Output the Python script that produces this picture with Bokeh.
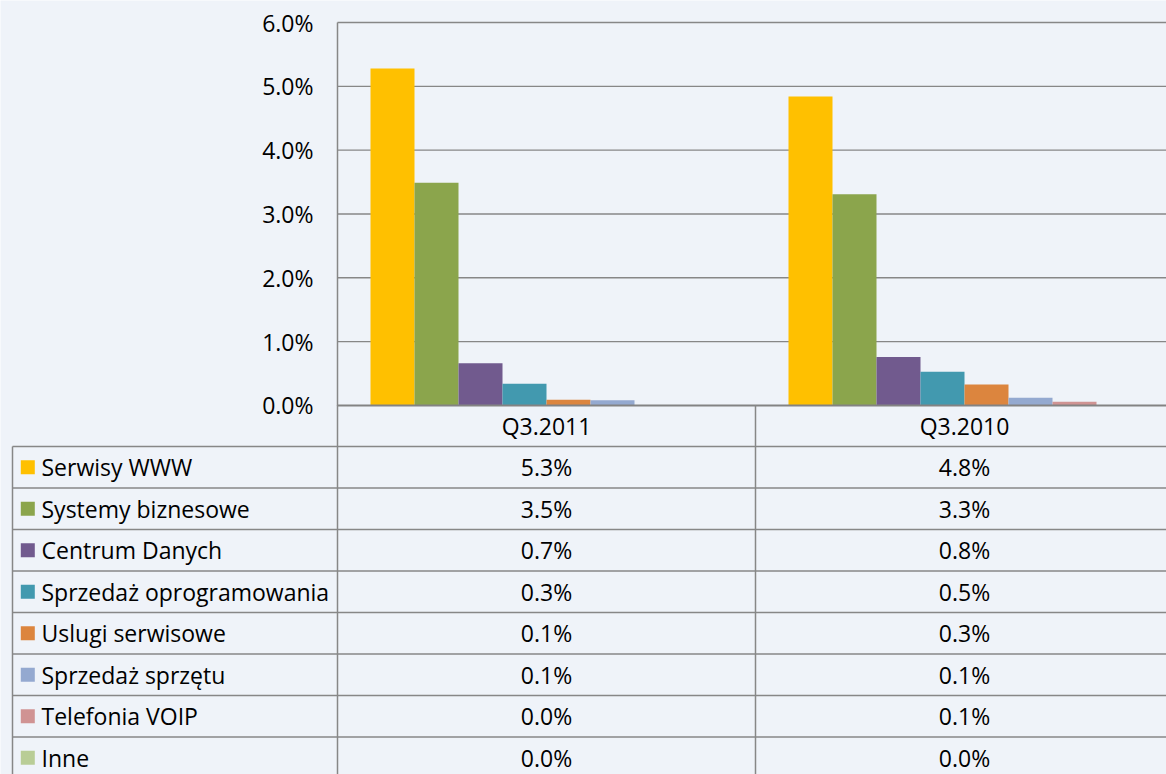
from bokeh.plotting import figure
from bokeh.models import Range1d, ColumnDataSource
from bokeh.core.properties import value
from bokeh.embed import file_html
from bokeh.resources import INLINE

# ---------------- data ----------------
categories = ["Q3.2011", "Q3.2010"]
series = ["Serwisy WWW", "Systemy biznesowe", "Centrum Danych",
          "Sprzedaż oprogramowania", "Uslugi serwisowe", "Sprzedaż sprzętu",
          "Telefonia VOIP", "Inne"]
q3_2011 = [5.28, 3.49, 0.66, 0.34, 0.09, 0.08, 0.0, 0.0]
q3_2010 = [4.84, 3.31, 0.76, 0.53, 0.33, 0.12, 0.06, 0.0]
colors = ["#FFC000", "#8BA54C", "#715A8E", "#4299AF",
          "#DC853E", "#94A9D0", "#D09393", "#B9CD96"]
y_ticks = [0, 1, 2, 3, 4, 5, 6]

# ---------------- layout constants (pixels) ----------------
W, H = 1166, 774
BG = "#eff3f9"
GRID = "#878787"
FONT = "Open Sans"
FS = "23px"
PLOT_LEFT = 337.0   # x of the plot area's left edge
CAT_PX = 418.0      # width of one category
TOP_PX = 22.0       # y of the top gridline
PCT_PX = 63.83      # pixels per 1 percent
ROW_TOP = 404.5     # y of table header top
ROW_PX = 41.5       # table row height
TABLE_LEFT = 12.0
BAR_W = 44.0 / CAT_PX
n_series = len(series)
values_by_cat = [q3_2011, q3_2010]
y_max = max(y_ticks)

x_start = -PLOT_LEFT / CAT_PX
x_end = (W - PLOT_LEFT) / CAT_PX
y_top = y_max + TOP_PX / PCT_PX
y_bot = y_max - (H - TOP_PX) / PCT_PX
v_top = -ROW_TOP / ROW_PX
v_bot = (H - ROW_TOP) / ROW_PX

p = figure(width=W, height=H,
           x_range=Range1d(x_start, x_end),
           y_range=Range1d(y_bot, y_top),
           x_axis_location=None, y_axis_location=None,
           output_backend="svg", toolbar_location=None,
           min_border=0,
           background_fill_color=BG, border_fill_color=BG,
           outline_line_color=None)
p.extra_y_ranges = {"table": Range1d(v_bot, v_top)}
p.xgrid.grid_line_color = None
p.ygrid.grid_line_color = None

# ---------------- chart ----------------
grid_y = [t for t in y_ticks if t > 0]
p.segment(x0=[0] * len(grid_y), x1=[x_end] * len(grid_y), y0=grid_y, y1=grid_y,
          line_color=GRID, line_width=1.4)
p.segment(x0=[0], x1=[0], y0=[0], y1=[y_max], line_color=GRID, line_width=1.5)

# y tick labels
p.text(x=[(313 - PLOT_LEFT) / CAT_PX] * len(y_ticks), y=y_ticks,
       text=[f"{t:.1f}%" for t in y_ticks], text_align="right", text_baseline="middle",
       text_font=value(FONT), text_font_size=FS, text_color="#000000")

# bars
bx, btop, bcol = [], [], []
for i, vals in enumerate(values_by_cat):
    for j, v in enumerate(vals):
        bx.append(i + 0.5 + (j - (n_series - 1) / 2) * BAR_W)
        btop.append(v)
        bcol.append(colors[j])
p.vbar(x="x", top="top", bottom=0, width=BAR_W, color="color", line_color=None,
       source=ColumnDataSource(dict(x=bx, top=btop, color=bcol)))

# baseline
p.segment(x0=[0], x1=[x_end], y0=[0], y1=[0], line_color="#838383", line_width=2.2)

# ---------------- data table ----------------
u_left = (TABLE_LEFT - PLOT_LEFT) / CAT_PX
n_rows = len(series)
hy = list(range(1, n_rows + 2))
p.segment(x0=[u_left] * len(hy), x1=[x_end] * len(hy), y0=hy, y1=hy,
          line_color=GRID, line_width=1.5, y_range_name="table")
p.segment(x0=[u_left, 0, 1], x1=[u_left, 0, 1],
          y0=[1, 0, 0], y1=[v_bot, v_bot, v_bot],
          line_color=GRID, line_width=1.5, y_range_name="table")

# header
p.text(x=[i + 0.5 for i in range(len(categories))], y=[0.5] * len(categories),
       text=categories, text_align="center", text_baseline="middle",
       text_font=value(FONT), text_font_size=FS, text_color="#000000",
       y_range_name="table")

# legend column
row_y = [r + 1.5 for r in range(n_rows)]
p.scatter(x=[(27.3 - PLOT_LEFT) / CAT_PX] * n_rows, y=row_y, marker="square", size=14,
          fill_color=colors, line_color=None, y_range_name="table")
p.text(x=[(41 - PLOT_LEFT) / CAT_PX] * n_rows, y=row_y, text=series,
       text_align="left", text_baseline="middle",
       text_font=value(FONT), text_font_size=FS, text_color="#000000",
       y_range_name="table")

# values
tx, ty, tt = [], [], []
for i, vals in enumerate(values_by_cat):
    for j, v in enumerate(vals):
        tx.append(i + 0.5)
        ty.append(j + 1.5)
        tt.append(f"{v:.1f}%")
p.text(x=tx, y=ty, text=tt, text_align="center", text_baseline="middle",
       text_font=value(FONT), text_font_size=FS, text_color="#000000",
       y_range_name="table")

open("out.html", "w").write(file_html(p, INLINE))
